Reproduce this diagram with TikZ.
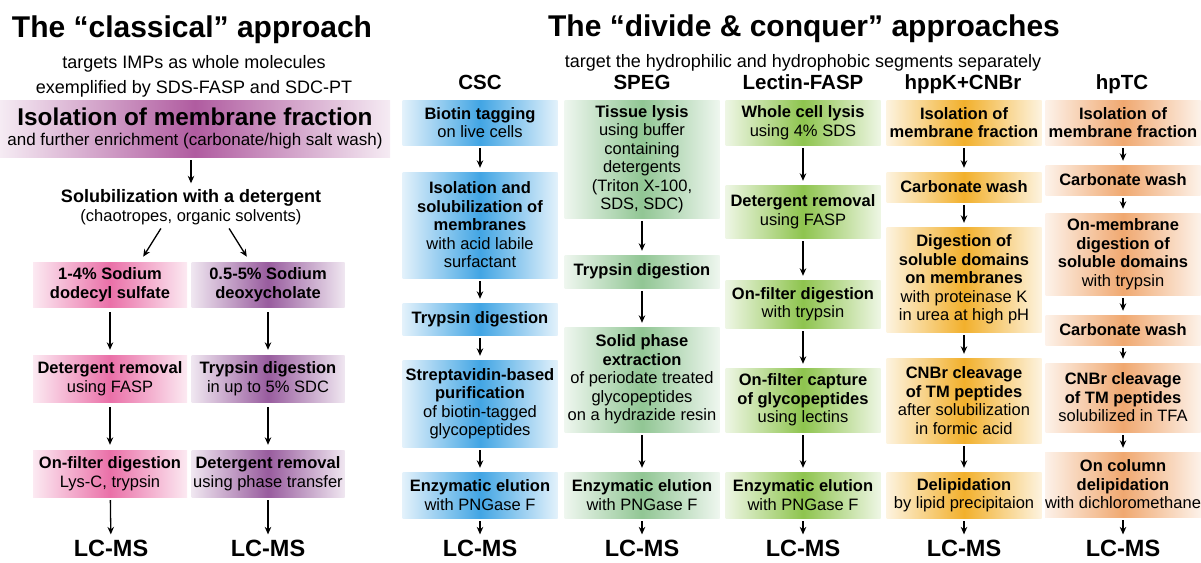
\documentclass[tikz,border=0pt]{standalone}
\usepackage{fontspec}
\setmainfont{Liberation Sans}
\usetikzlibrary{arrows.meta}

\definecolor{bandcol}{RGB}{176,92,160}
\definecolor{sdscol}{RGB}{234,112,168}
\definecolor{sdccol}{RGB}{152,92,158}
\definecolor{csccol}{RGB}{66,165,228}
\definecolor{spegcol}{RGB}{145,198,148}
\definecolor{lectcol}{RGB}{142,196,78}
\definecolor{hppkcol}{RGB}{242,176,44}
\definecolor{hptccol}{RGB}{240,168,112}

\newcommand{\boxfont}{\fontsize{16.5}{18.5}\selectfont}
\newcommand{\titlefont}{\fontsize{30}{34}\selectfont\bfseries}
\newcommand{\subfont}{\fontsize{18}{25}\selectfont}
\newcommand{\headfont}{\fontsize{20.5}{24}\selectfont\bfseries}
\newcommand{\msfont}{\fontsize{23.5}{26}\selectfont\bfseries}

\tikzset{
  >={Stealth[length=7.5pt,width=6.5pt]},
  flow/.style={->, line width=1.3pt, shorten <=3pt, shorten >=4pt},
  stage/.style={% shaded box, colour strongest in the middle
    left color=#1!15, right color=#1!15, middle color=#1,
    draw=none, align=center, font=\boxfont,
    inner xsep=0pt, inner ysep=2pt, minimum width=155pt},
  heading/.style={font=\headfont, anchor=base, inner sep=0pt},
  ms/.style={font=\msfont, anchor=base, inner sep=1pt},
}

\begin{document}
\begin{tikzpicture}[x=1pt, y=-1pt]
  \useasboundingbox (0,0) rectangle (1201,562);

  % ----- classical approach -------------------------------------------------
  \node[font=\titlefont, anchor=base, inner sep=0pt] (ctitle) at (192,37) {The “classical” approach};
  \node[font=\subfont, align=center, anchor=base, inner sep=0pt] (csub) at (194,93)
    {targets IMPs as whole molecules\\exemplified by SDS-FASP and SDC-PT};

  \node[stage=bandcol, left color=bandcol!12, right color=bandcol!12, middle color=bandcol,
        minimum width=390pt, minimum height=57pt, font=\fontsize{17}{20}\selectfont] (band) at (195,128.5)
    {{\fontsize{24.3}{26}\selectfont\bfseries Isolation of membrane fraction}\\and further enrichment (carbonate/high salt wash)};

  \node[align=center, font=\boxfont, inner sep=2pt] (solub) at (191,207)
    {{\fontsize{18}{20}\selectfont\bfseries Solubilization with a detergent}\\(chaotropes, organic solvents)};

  \node[stage=sdscol, minimum width=154pt, minimum height=45pt] (sds1) at (110,284.5)
    {\textbf{1-4\% Sodium}\\\textbf{dodecyl sulfate}};
  \node[stage=sdccol, minimum width=153pt, minimum height=45pt] (sdc1) at (268,284.5)
    {\textbf{0.5-5\% Sodium}\\\textbf{deoxycholate}};
  \node[stage=sdscol, minimum width=154pt, minimum height=47pt] (sds2) at (110,378.5)
    {\textbf{Detergent removal}\\using FASP};
  \node[stage=sdccol, minimum width=153pt, minimum height=47pt] (sdc2) at (268,378.5)
    {\textbf{Trypsin digestion}\\in up to 5\% SDC};
  \node[stage=sdscol, minimum width=154pt, minimum height=47pt] (sds3) at (110,473.5)
    {\textbf{On-filter digestion}\\Lys-C, trypsin};
  \node[stage=sdccol, minimum width=153pt, minimum height=47pt] (sdc3) at (268,473.5)
    {\textbf{Detergent removal}\\using phase transfer};
  \node[ms] (sdsms) at (111,556) {LC-MS};
  \node[ms] (sdcms) at (268,556) {LC-MS};

  \draw[flow] (band.south -| solub.north) -- (solub.north);
  \draw[flow, shorten <=2pt, shorten >=6pt] ([xshift=-29pt]solub.south) -- ([xshift=30pt]sds1.north);
  \draw[flow, shorten <=2pt, shorten >=6pt] ([xshift=37pt]solub.south) -- ([xshift=-18pt]sdc1.north);
  \draw[flow, shorten <=5pt, shorten >=5pt] (sds1) -- (sds2);
  \draw[flow, shorten <=5pt, shorten >=5pt] (sds2) -- (sds3);
  \draw[flow, shorten <=3pt] (sds3) -- (sdsms);
  \draw[flow, shorten <=5pt, shorten >=5pt] (sdc1) -- (sdc2);
  \draw[flow, shorten <=5pt, shorten >=5pt] (sdc2) -- (sdc3);
  \draw[flow, shorten <=3pt] (sdc3) -- (sdcms);

  % ----- divide & conquer approaches ----------------------------------------
  \node[font=\titlefont, anchor=base, inner sep=0pt] (dtitle) at (804,36.5) {The “divide \& conquer” approaches};
  \node[font=\subfont, anchor=base, inner sep=0pt] (dsub) at (803,67)
    {target the hydrophilic and hydrophobic segments separately};

  \node[heading] (hcsc)  at (480,89.5)  {CSC};
  \node[heading] (hspeg) at (642,89.5)  {SPEG};
  \node[heading] (hlec)  at (803,89.5)  {Lectin-FASP};
  \node[heading] (hhpk)  at (963,89.5)  {hppK+CNBr};
  \node[heading] (hhpt)  at (1122,89.5) {hpTC};

  % CSC
  \node[stage=csccol, minimum height=45pt]  (csc1) at (480,122.5) {\textbf{Biotin tagging}\\on live cells};
  \node[stage=csccol, minimum height=106pt] (csc2) at (480,225)
    {\textbf{Isolation and}\\\textbf{solubilization of}\\\textbf{membranes}\\with acid labile\\surfactant};
  \node[stage=csccol, minimum height=32pt]  (csc3) at (480,319) {\textbf{Trypsin digestion}};
  \node[stage=csccol, minimum height=87pt]  (csc4) at (480,403.5)
    {\textbf{Streptavidin-based}\\\textbf{purification}\\of biotin-tagged\\glycopeptides};
  \node[stage=csccol, minimum height=46pt]  (csc5) at (480,495) {\textbf{Enzymatic elution}\\with PNGase F};
  \node[ms] (cscms) at (480,556) {LC-MS};

  % SPEG
  \node[stage=spegcol, minimum height=118pt] (speg1) at (642,159)
    {\textbf{Tissue lysis}\\using buffer\\containing\\detergents\\(Triton X-100,\\SDS, SDC)};
  \node[stage=spegcol, minimum height=33pt]  (speg2) at (642,271.5) {\textbf{Trypsin digestion}};
  \node[stage=spegcol, minimum height=105pt] (speg3) at (642,379.5)
    {\textbf{Solid phase}\\\textbf{extraction}\\of periodate treated\\glycopeptides\\on a hydrazide resin};
  \node[stage=spegcol, minimum height=46pt]  (speg4) at (642,495) {\textbf{Enzymatic elution}\\with PNGase F};
  \node[ms] (spegms) at (642,556) {LC-MS};

  % Lectin-FASP
  \node[stage=lectcol, minimum height=45pt] (lec1) at (803,122.5) {\textbf{Whole cell lysis}\\using 4\% SDS};
  \node[stage=lectcol, minimum height=53pt] (lec2) at (803,211.5) {\textbf{Detergent removal}\\using FASP};
  \node[stage=lectcol, minimum height=48pt] (lec3) at (803,304)   {\textbf{On-filter digestion}\\with trypsin};
  \node[stage=lectcol, minimum height=64pt] (lec4) at (803,400)
    {\textbf{On-filter capture}\\\textbf{of glycopeptides}\\using lectins};
  \node[stage=lectcol, minimum height=46pt] (lec5) at (803,495)   {\textbf{Enzymatic elution}\\with PNGase F};
  \node[ms] (lecms) at (803,556) {LC-MS};

  % hppK+CNBr
  \node[stage=hppkcol, minimum height=45pt]  (hpk1) at (964,122.5) {\textbf{Isolation of}\\\textbf{membrane fraction}};
  \node[stage=hppkcol, minimum height=30pt]  (hpk2) at (964,187)   {\textbf{Carbonate wash}};
  \node[stage=hppkcol, minimum height=105pt] (hpk3) at (964,279.5)
    {\textbf{Digestion of}\\\textbf{soluble domains}\\\textbf{on membranes}\\with proteinase K\\in urea at high pH};
  \node[stage=hppkcol, minimum height=85pt]  (hpk4) at (964,400.5)
    {\textbf{CNBr cleavage}\\\textbf{of TM peptides}\\after solubilization\\in formic acid};
  \node[stage=hppkcol, minimum height=46pt]  (hpk5) at (964,495)   {\textbf{Delipidation}\\by lipid precipitaion};
  \node[ms] (hpkms) at (964,556) {LC-MS};

  % hpTC
  \node[stage=hptccol, minimum height=45pt] (hpt1) at (1123,122.5) {\textbf{Isolation of}\\\textbf{membrane fraction}};
  \node[stage=hptccol, minimum height=30pt] (hpt2) at (1123,180)   {\textbf{Carbonate wash}};
  \node[stage=hptccol, minimum height=82pt] (hpt3) at (1123,254)
    {\textbf{On-membrane}\\\textbf{digestion of}\\\textbf{soluble domains}\\with trypsin};
  \node[stage=hptccol, minimum height=30pt] (hpt4) at (1123,330)   {\textbf{Carbonate wash}};
  \node[stage=hptccol, minimum height=69pt] (hpt5) at (1123,397.5)
    {\textbf{CNBr cleavage}\\\textbf{of TM peptides}\\solubilized in TFA};
  \node[stage=hptccol, minimum height=65pt] (hpt6) at (1123,484.5)
    {\textbf{On column}\\\textbf{delipidation}\\with dichloromethane};
  \node[ms] (hptms) at (1123,556) {LC-MS};

  % ----- step arrows --------------------------------------------------------
  \draw[flow] (csc1) -- (csc2);   \draw[flow] (csc2) -- (csc3);
  \draw[flow] (csc3) -- (csc4);   \draw[flow] (csc4) -- (csc5);
  \draw[flow] (csc5) -- (cscms);

  \draw[flow] (speg1) -- (speg2); \draw[flow] (speg2) -- (speg3);
  \draw[flow] (speg3) -- (speg4); \draw[flow] (speg4) -- (spegms);

  \draw[flow] (lec1) -- (lec2);   \draw[flow] (lec2) -- (lec3);
  \draw[flow] (lec3) -- (lec4);   \draw[flow] (lec4) -- (lec5);
  \draw[flow] (lec5) -- (lecms);

  \draw[flow] (hpk1) -- (hpk2);   \draw[flow] (hpk2) -- (hpk3);
  \draw[flow] (hpk3) -- (hpk4);   \draw[flow] (hpk4) -- (hpk5);
  \draw[flow] (hpk5) -- (hpkms);

  \draw[flow] (hpt1) -- (hpt2);   \draw[flow] (hpt2) -- (hpt3);
  \draw[flow] (hpt3) -- (hpt4);   \draw[flow] (hpt4) -- (hpt5);
  \draw[flow] (hpt5) -- (hpt6);   \draw[flow] (hpt6) -- (hptms);

\end{tikzpicture}
\end{document}
